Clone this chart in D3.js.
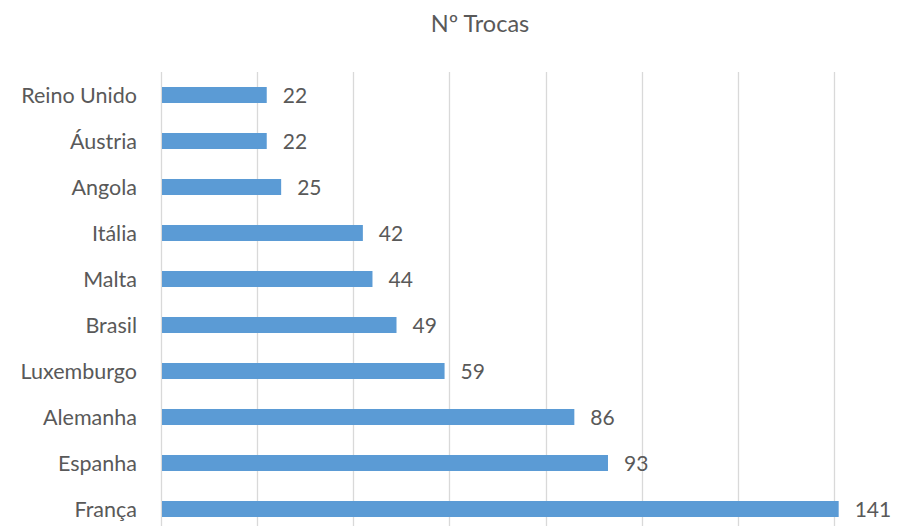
<!DOCTYPE html>
<html>
<head>
<meta charset="utf-8">
<script src="https://cdn.jsdelivr.net/npm/d3@7"></script>
<style>
  html, body { margin: 0; padding: 0; background: #ffffff; overflow: hidden; }
  svg { display: block; }
  text { font-family: Lato, "Open Sans", sans-serif; fill: #595959; }
</style>
</head>
<body>
<svg id="chart" width="909" height="526"></svg>
<script>
const title = "Nº Trocas";
const categories = ["Reino Unido", "Áustria", "Angola", "Itália", "Malta", "Brasil", "Luxemburgo", "Alemanha", "Espanha", "França"];
const values = [22, 22, 25, 42, 44, 49, 59, 86, 93, 141];
const gridTicks = [0, 20, 40, 60, 80, 100, 120, 140, 160];

const svg = d3.select("#chart");
const margin = { left: 161, top: 72 };
const plotW = 769, plotH = 460;

const x = d3.scaleLinear().domain([0, 160]).range([margin.left, margin.left + plotW]);
const y = d3.scaleBand().domain(categories).range([margin.top, margin.top + plotH]).paddingInner(0.652).paddingOuter(0.326);

svg.append("text")
  .attr("x", 480).attr("y", 32)
  .attr("text-anchor", "middle")
  .style("font-size", "23.5px")
  .text(title);

svg.append("g").selectAll("line")
  .data(gridTicks)
  .join("line")
  .attr("x1", d => Math.round(x(d)) + 0.5)
  .attr("x2", d => Math.round(x(d)) + 0.5)
  .attr("y1", margin.top)
  .attr("y2", margin.top + plotH)
  .attr("stroke", "#d9d9d9")
  .attr("stroke-width", 1.3);

svg.append("g").selectAll("rect")
  .data(values)
  .join("rect")
  .attr("x", x(0) + 1)
  .attr("y", (d, i) => y(categories[i]))
  .attr("width", d => x(d) - x(0) - 1)
  .attr("height", y.bandwidth())
  .attr("fill", "#5b9bd5");

svg.append("g").selectAll("text")
  .data(values)
  .join("text")
  .attr("x", d => x(d) + 16)
  .attr("y", (d, i) => y(categories[i]) + y.bandwidth() / 2 + 7.5)
  .style("font-size", "21px")
  .text(d => d);

svg.append("g").selectAll("text")
  .data(categories)
  .join("text")
  .attr("x", 137)
  .attr("y", d => y(d) + y.bandwidth() / 2 + 7.5)
  .attr("text-anchor", "end")
  .style("font-size", "21.5px")
  .text(d => d);
</script>
</body>
</html>
